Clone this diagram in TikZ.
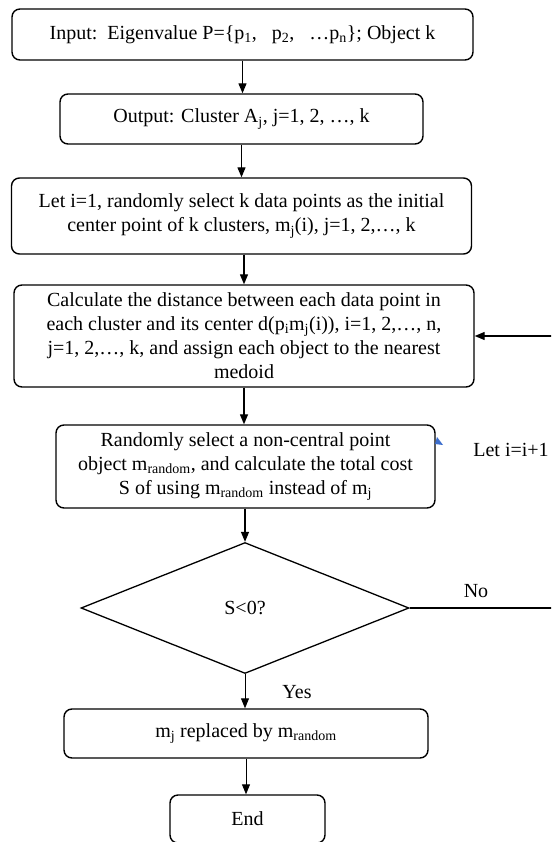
\documentclass[tikz,border=0pt]{standalone}
\usepackage{fontspec}
\setmainfont{Liberation Serif}
\usetikzlibrary{shapes.geometric,arrows.meta}
\definecolor{stray}{RGB}{60,110,205}
\tikzset{
  procbox/.style={draw, line width=1.4pt, rounded corners=8pt, align=center, inner sep=0pt},
  testbox/.style={draw, diamond, line width=1.3pt, inner sep=0pt},
  flow/.style={line width=1.3pt, -{Triangle[length=10pt,width=8pt]}},
  thinflow/.style={line width=0.9pt, -{Triangle[length=10pt,width=8pt]}},
}
\begin{document}
\begin{tikzpicture}[x=1pt, y=-1pt, font=\fontsize{20}{24}\selectfont]
    \clip (0,0) rectangle (551,842);
    % boxes
    \node[procbox, minimum width=461pt, minimum height=51pt] (input) at (242.5,34.5)
        {Input:\ \ Eigenvalue P=\{p\textsubscript{1},\ \ \ p\textsubscript{2},\ \ \ …p\textsubscript{n}\}; Object k};
    \node[procbox, minimum width=363pt, minimum height=50pt] (output) at (241.5,119)
        {Output: Cluster A\textsubscript{j}, j=1, 2, …, k};
    \node[procbox, minimum width=460pt, minimum height=76pt] (init) at (241.5,216)
        {Let i=1, randomly select k data points as the initial\\
         center point of k clusters, m\textsubscript{j}(i), j=1, 2,…, k};
    \node[procbox, minimum width=460pt, minimum height=102pt] (assign) at (244,336)
        {Calculate the distance between each data point in\\
         each cluster and its center d(p\textsubscript{i}m\textsubscript{j}(i)), i=1, 2,…, n,\\
         j=1, 2,…, k, and assign each object to the nearest\\
         medoid};
    \node[procbox, minimum width=379pt, minimum height=83pt] (swap) at (245.5,466.5)
        {Randomly select a non-central point\\
         object m\textsubscript{random}, and calculate the total cost\\
         S of using m\textsubscript{random} instead of m\textsubscript{j}};
    \node[testbox, minimum width=328pt, minimum height=131pt] (test) at (245,608) {S<0?};
    \node[procbox, minimum width=364pt, minimum height=49pt] (replace) at (246,733.5)
        {m\textsubscript{j} replaced by m\textsubscript{random}};
    \node[procbox, minimum width=155pt, minimum height=48pt] (stop) at (247.5,819) {End};
    % labels
    \node (no) at (476,591) {No};
    \node (yes) at (297,692) {Yes};
    \node (incr) at (511,450) {Let i=i+1};
    % arrows
    \draw[flow] (input.south) -- (input.south |- output.north);
    \draw[flow] (output.south) -- (output.south |- init.north);
    \draw[flow] (init.south -| assign.south) -- (assign.north);
    \draw[flow] (assign.south) -- (assign.south |- swap.north);
    \draw[flow] (swap.south -| test.north) -- (test.north);
    \draw[thinflow] (test.south) -- (test.south |- replace.north);
    \draw[thinflow] (replace.south) -- (replace.south |- stop.north);
    \draw[flow] (test.east) -- ++(170,0) |- (assign.east);
    \fill[stray] (437,437) -- (435,444) -- (443,445) -- cycle;
\end{tikzpicture}
\end{document}
